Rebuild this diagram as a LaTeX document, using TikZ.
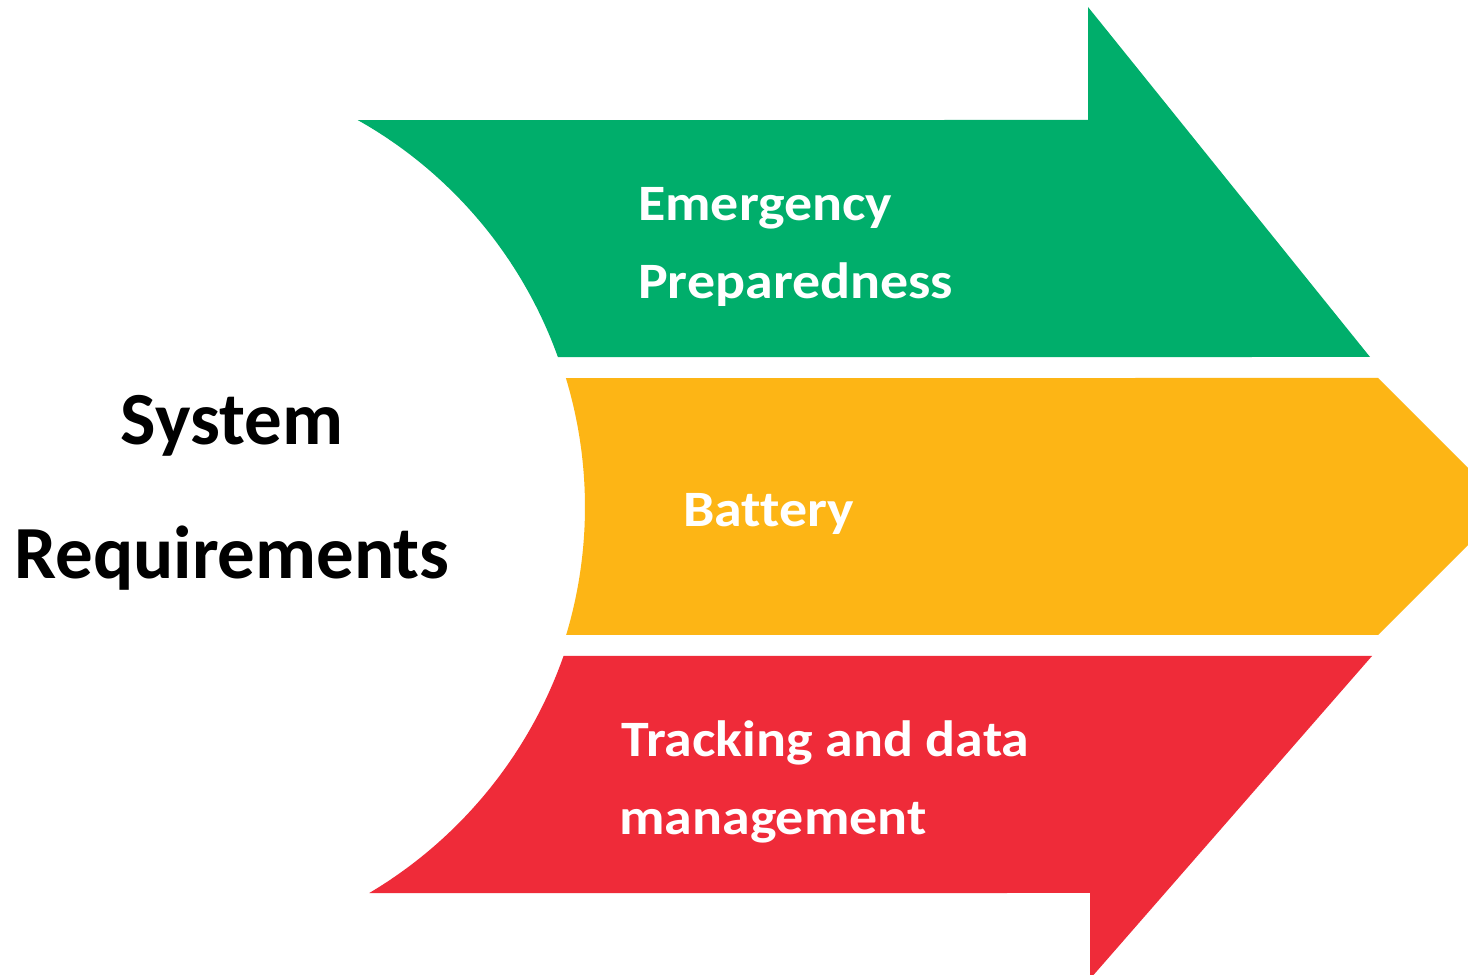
\documentclass[tikz,border=0pt]{standalone}
\usepackage{fontspec}
\setmainfont{Carlito}
\newfontfamily\lblfont{Carlito}[FakeStretch=1.097, Ligatures=NoCommon]
\usetikzlibrary{calc}
\definecolor{gfill}{HTML}{00AE6B}
\definecolor{yfill}{HTML}{FDB515}
\definecolor{rfill}{HTML}{EF2B39}
\tikzset{
  lbl/.style={text=white, inner sep=0pt, anchor=base west, font=\lblfont\fontsize{51}{61}\selectfont\bfseries},
  title/.style={text=black, inner sep=0pt, anchor=base, font=\fontsize{75}{90}\selectfont\bfseries}
}
\begin{document}
\begin{tikzpicture}[x=1pt,y=1pt]
\useasboundingbox (0,0) rectangle (1468,975);
\clip (0,0) rectangle (1468,975);
\fill[white] (0,0) rectangle (1468,975);
\coordinate (c) at (140,468);
% green arrow
\fill[gfill] ($(c)+(19.74:444)$) arc[start angle=19.74, end angle=60.64, radius=444]
  -- (1088,855) -- (1088,968) -- (1370,618) -- cycle;
% yellow arrow
\fill[yfill] ($(c)+(16.85:445)$) arc[start angle=16.85, end angle=-16.71, radius=445]
  -- (1378,340) -- (1506.5,468.5) -- (1378,597) -- cycle;
% red arrow
\fill[rfill] ($(c)+(-19.38:449)$) arc[start angle=-19.38, end angle=-59.29, radius=449]
  -- (1090,82) -- (1090,-4) -- (1372,319) -- cycle;
% labels
\node[lbl] (em) at (638,754.3) {Emergency};
\node[lbl] (pr) at (638,676.7) {Preparedness};
\node[lbl] (ba) at (683,448.3) {Battery};
\node[lbl] (tr) at (621,218.3) {Tracking and data};
\node[lbl] (ma) at (619,140) {management};
\node[title] (sy) at (232,530.7) {System};
\node[title] (re) at (232,396) {Requirements};
\end{tikzpicture}
\end{document}
